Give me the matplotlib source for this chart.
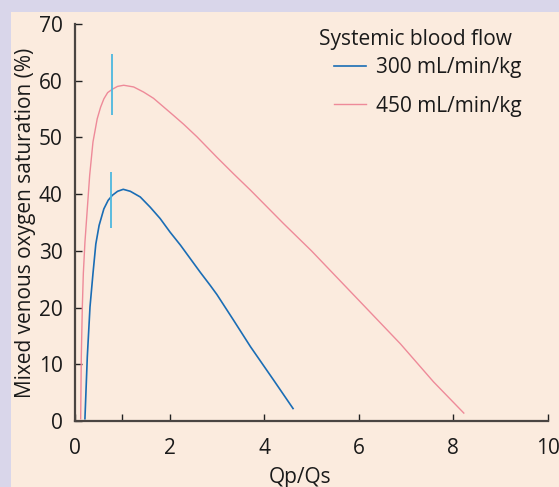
import matplotlib.pyplot as plt
from matplotlib.patches import Rectangle

plt.rcParams['font.family'] = ['Open Sans', 'DejaVu Sans']

# values
qp_qs_450 = [0.12, 0.133, 0.155, 0.176, 0.21, 0.26, 0.31, 0.38, 0.47, 0.54, 0.61, 0.69,
             0.79, 0.9, 1.03, 1.24, 1.45, 1.66, 1.87, 2.08, 2.3, 2.58, 3.0, 3.35, 3.71,
             4.41, 5.0, 5.47, 6.17, 6.88, 7.58, 8.22]
svo2_450 = [0.4, 11.3, 20.1, 26.0, 31.5, 37.4, 43.3, 49.2, 53.3, 55.3, 56.8, 57.9,
            58.5, 59.0, 59.2, 58.9, 58.0, 56.9, 55.4, 53.9, 52.3, 50.1, 46.5, 43.6, 40.7,
            34.8, 30.0, 25.9, 19.8, 13.6, 6.9, 1.4]

qp_qs_300 = [0.21, 0.26, 0.317, 0.38, 0.44, 0.51, 0.61, 0.7, 0.79, 0.9, 1.02, 1.17,
             1.38, 1.59, 1.8, 2.01, 2.23, 2.44, 2.65, 2.86, 3.0, 3.35, 3.71, 4.2, 4.61]
svo2_300 = [0.4, 11.3, 20.1, 26.0, 31.2, 34.5, 37.4, 38.9, 39.8, 40.5, 40.85, 40.5,
            39.5, 37.7, 35.7, 33.3, 31.0, 28.6, 26.2, 23.9, 22.3, 17.8, 13.1, 7.2, 2.2]

# short vertical markers (x, ymin, ymax)
marker_x = [0.78, 0.77]
marker_lo = [53.9, 34.1]
marker_hi = [64.7, 43.9]

labels = ['300 mL/min/kg', '450 mL/min/kg']
legend_title = 'Systemic blood flow'
xticks = [0, 2, 4, 6, 8, 10]
yticks = [0, 10, 20, 30, 40, 50, 60, 70]

blue = '#1a6db5'
pink = '#ee8a99'
cyan = '#4db8de'
axis_col = '#4a4542'
text_col = '#1a1a1a'
fs = 15

fig = plt.figure(figsize=(5.59, 4.87), dpi=100)
fig.patch.set_facecolor('#d9d6ea')
fig.patches.append(Rectangle((11 / 559, 0), 1, 1 - 12 / 487, transform=fig.transFigure,
                             facecolor='#fbebde', edgecolor='none', zorder=-1))

ax = fig.add_axes([75 / 559, 1 - 421 / 487, 473 / 559, 397 / 487])
ax.set_facecolor('none')

ax.plot(qp_qs_300, svo2_300, color=blue, lw=1.2, label=labels[0])
ax.plot(qp_qs_450, svo2_450, color=pink, lw=1.0, label=labels[1])
ax.vlines(marker_x, marker_lo, marker_hi, color=cyan, lw=1.3)

ax.set_xlim(0, 10)
ax.set_ylim(0, 70)
ax.set_xticks(xticks)
ax.set_xticks([1], minor=True)
ax.set_yticks(yticks)

for s in ['top', 'right']:
    ax.spines[s].set_visible(False)
for s in ['left', 'bottom']:
    ax.spines[s].set_linewidth(1.6)
    ax.spines[s].set_color(axis_col)

ax.tick_params(axis='both', which='both', direction='in', length=5, width=1.0,
               color='#222222', labelsize=fs, labelcolor=text_col)
ax.tick_params(axis='x', pad=12)
ax.tick_params(axis='y', pad=9)

ax.set_xlabel('Qp/Qs', fontsize=fs, color=text_col)
ax.xaxis.set_label_coords(0.476, -0.115)
ax.set_ylabel('Mixed venous oxygen saturation (%)', fontsize=fs, color=text_col)
ax.yaxis.set_label_coords(-0.083, 0.5)

# legend title drawn on its own so the gap to the entries can differ from row spacing
ax.text(0.516, 0.962, legend_title, transform=ax.transAxes, fontsize=fs,
        color=text_col, ha='left', va='center')
leg = ax.legend(frameon=False, loc='upper left', bbox_to_anchor=(0.548, 0.917),
                fontsize=fs, handlelength=1.55, handletextpad=0.45,
                labelspacing=0.85, borderpad=0, borderaxespad=0)
for t in leg.get_texts():
    t.set_color(text_col)

fig.savefig('out.png', dpi=100)
